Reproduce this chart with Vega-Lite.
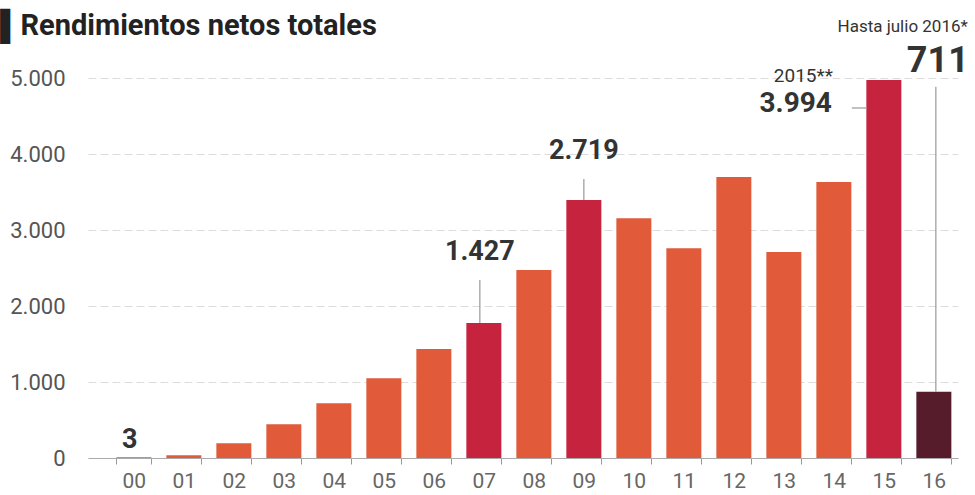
{
  "$schema": "https://vega.github.io/schema/vega-lite/v6.json",
  "width": 870,
  "height": 380,
  "autosize": {"type": "none"},
  "padding": {"left": 88, "top": 78, "right": 17, "bottom": 37},
  "background": "white",
  "config": {"view": {"stroke": null}, "font": "Roboto"},
  "title": {
    "text": "▌Rendimientos netos totales",
    "anchor": "start",
    "frame": "group",
    "fontSize": 29,
    "fontWeight": "bold",
    "color": "#222",
    "dx": -88,
    "dy": 37,
    "offset": 14
  },
  "data": {
    "values": [
      {"year": "00", "value": 10, "group": "normal"},
      {"year": "01", "value": 35, "group": "normal"},
      {"year": "02", "value": 195, "group": "normal"},
      {"year": "03", "value": 443, "group": "normal"},
      {"year": "04", "value": 720, "group": "normal"},
      {"year": "05", "value": 1049, "group": "normal"},
      {"year": "06", "value": 1434, "group": "normal"},
      {"year": "07", "value": 1776, "group": "highlight"},
      {"year": "08", "value": 2474, "group": "normal"},
      {"year": "09", "value": 3395, "group": "highlight"},
      {"year": "10", "value": 3154, "group": "normal"},
      {"year": "11", "value": 2759, "group": "normal"},
      {"year": "12", "value": 3697, "group": "normal"},
      {"year": "13", "value": 2711, "group": "normal"},
      {"year": "14", "value": 3632, "group": "normal"},
      {"year": "15", "value": 4974, "group": "highlight"},
      {"year": "16", "value": 872, "group": "partial"}
    ]
  },
  "encoding": {
    "x": {
      "field": "year",
      "type": "nominal",
      "sort": null,
      "scale": {"paddingInner": 0.3, "paddingOuter": 0.35, "align": 0.81},
      "axis": {
        "title": null,
        "labelAngle": 0,
        "labelFontSize": 21,
        "labelColor": "#666",
        "labelPadding": 6,
        "tickBand": "extent",
        "tickSize": 6,
        "tickColor": "#999",
        "domainColor": "#aaa",
        "grid": false
      }
    },
    "y": {
      "field": "value",
      "type": "quantitative",
      "scale": {"domain": [0, 5000], "nice": false},
      "axis": {
        "title": null,
        "values": [0, 1000, 2000, 3000, 4000, 5000],
        "labelExpr": "replace(format(datum.value, ','), ',', '.')",
        "domain": false,
        "ticks": false,
        "tickSize": 0,
        "labelPadding": 23,
        "labelFontSize": 22,
        "labelColor": "#555",
        "gridColor": "#dcdcdc",
        "gridDash": [8, 4]
      }
    }
  },
  "layer": [
    {
      "mark": {"type": "bar"},
      "encoding": {
        "color": {
          "field": "group",
          "type": "nominal",
          "scale": {"domain": ["normal", "highlight", "partial"], "range": ["#e15b3b", "#c6233f", "#561c2b"]},
          "legend": null
        }
      }
    },
    {
      "transform": [{"filter": "datum.year == '07'"}],
      "mark": {"type": "rule", "color": "#999", "strokeWidth": 1.2, "xOffset": -4, "y2Offset": -43},
      "encoding": {"y2": {"field": "value"}}
    },
    {
      "transform": [{"filter": "datum.year == '09'"}],
      "mark": {"type": "rule", "color": "#999", "strokeWidth": 1.2, "y2Offset": -21},
      "encoding": {"y2": {"field": "value"}}
    },
    {
      "transform": [{"filter": "datum.year == '16'"}],
      "mark": {"type": "rule", "color": "#999", "strokeWidth": 1.2, "xOffset": 2, "y2Offset": -305},
      "encoding": {"y2": {"field": "value"}}
    },
    {
      "transform": [{"filter": "datum.year == '15'"}],
      "mark": {"type": "rule", "color": "#999", "strokeWidth": 1.2, "xOffset": -32, "x2Offset": -17, "yOffset": 28},
      "encoding": {"x2": {"field": "year"}}
    },
    {
      "transform": [{"filter": "datum.year == '00'"}, {"calculate": "'3'", "as": "label"}],
      "mark": {"type": "text", "fontSize": 27, "fontWeight": "bold", "color": "#333", "baseline": "alphabetic", "dx": -4, "dy": -9},
      "encoding": {"text": {"field": "label"}}
    },
    {
      "transform": [{"filter": "datum.year == '07'"}, {"calculate": "'1.427'", "as": "label"}],
      "mark": {"type": "text", "fontSize": 27, "fontWeight": "bold", "color": "#333", "baseline": "alphabetic", "dx": -4, "dy": -63},
      "encoding": {"text": {"field": "label"}}
    },
    {
      "transform": [{"filter": "datum.year == '09'"}, {"calculate": "'2.719'", "as": "label"}],
      "mark": {"type": "text", "fontSize": 27, "fontWeight": "bold", "color": "#333", "baseline": "alphabetic", "dx": 0, "dy": -41},
      "encoding": {"text": {"field": "label"}}
    },
    {
      "transform": [{"filter": "datum.year == '15'"}, {"calculate": "'3.994'", "as": "label"}],
      "mark": {"type": "text", "fontSize": 28, "fontWeight": "bold", "color": "#333", "baseline": "alphabetic", "align": "right", "dx": -52, "dy": 32},
      "encoding": {"text": {"field": "label"}}
    },
    {
      "transform": [{"filter": "datum.year == '15'"}, {"calculate": "'2015**'", "as": "label"}],
      "mark": {"type": "text", "fontSize": 19, "color": "#333", "baseline": "alphabetic", "align": "right", "dx": -51, "dy": 2},
      "encoding": {"text": {"field": "label"}}
    },
    {
      "transform": [{"filter": "datum.year == '16'"}, {"calculate": "'711'", "as": "label"}],
      "mark": {"type": "text", "fontSize": 36, "fontWeight": "bold", "color": "#333", "baseline": "alphabetic", "dx": 4, "dy": -320},
      "encoding": {"text": {"field": "label"}}
    },
    {
      "transform": [{"filter": "datum.year == '16'"}, {"calculate": "'Hasta julio 2016*'", "as": "label"}],
      "mark": {"type": "text", "fontSize": 17, "color": "#333", "baseline": "alphabetic", "align": "right", "dx": 34, "dy": -360},
      "encoding": {"text": {"field": "label"}}
    }
  ]
}
